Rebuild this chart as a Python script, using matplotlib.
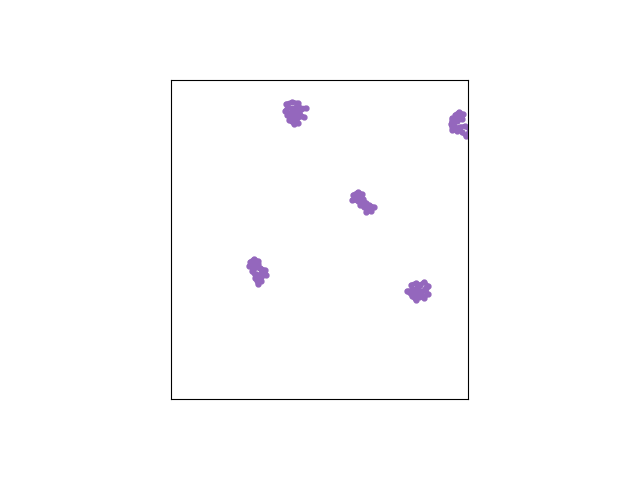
import matplotlib
matplotlib.use("Agg")
import matplotlib.pyplot as plt

# scribble clusters, values (x right, y up)
c1_x = [115, 121, 127, 129, 135, 128, 125, 117, 114, 120, 129, 133, 126, 119, 116, 121, 127, 123, 118, 122, 126]
c1_y = [295, 297, 296, 291, 291, 287, 289, 292, 288, 286, 284, 282, 281, 281, 284, 278, 276, 275, 279, 290, 293]

c2_x = [284, 288, 292, 291, 286, 281, 280, 281, 286, 289, 294, 299, 295, 291, 287, 283, 285, 290]
c2_y = [284, 287, 285, 280, 278, 281, 275, 269, 268, 272, 273, 269, 263, 267, 271, 273, 282, 283]

c3_x = [182, 187, 191, 185, 181, 187, 192, 195, 189, 193, 198, 203, 200, 195, 197, 191, 186, 184, 190]
c3_y = [204, 207, 205, 201, 199, 198, 200, 196, 194, 192, 194, 192, 188, 187, 191, 196, 203, 200, 202]

c4_x = [79, 83, 87, 84, 78, 82, 89, 94, 95, 90, 85, 81, 86, 90, 87, 84, 91, 87, 81]
c4_y = [137, 140, 138, 134, 133, 130, 131, 129, 124, 122, 125, 128, 120, 118, 115, 121, 126, 135, 136]

c5_x = [240, 245, 249, 253, 257, 254, 257, 253, 248, 245, 241, 236, 241, 246, 250, 243, 247, 251, 244, 255]
c5_y = [114, 116, 114, 117, 113, 109, 105, 101, 102, 99, 103, 108, 109, 111, 107, 106, 113, 104, 101, 111]

clusters = [(c1_x, c1_y), (c2_x, c2_y), (c3_x, c3_y), (c4_x, c4_y), (c5_x, c5_y)]

fig = plt.figure(figsize=(6.4, 4.8), dpi=100)
ax = fig.add_axes([171/640, 81/480, 297/640, 319/480])
for xs, ys in clusters:
    ax.plot(xs, ys, '-o', color='#9467bd', lw=3.2, ms=3.5,
            solid_capstyle='round', solid_joinstyle='round')
ax.set_xlim(0, 297)
ax.set_ylim(0, 319)
ax.set_xticks([])
ax.set_yticks([])
fig.savefig("out.png")
